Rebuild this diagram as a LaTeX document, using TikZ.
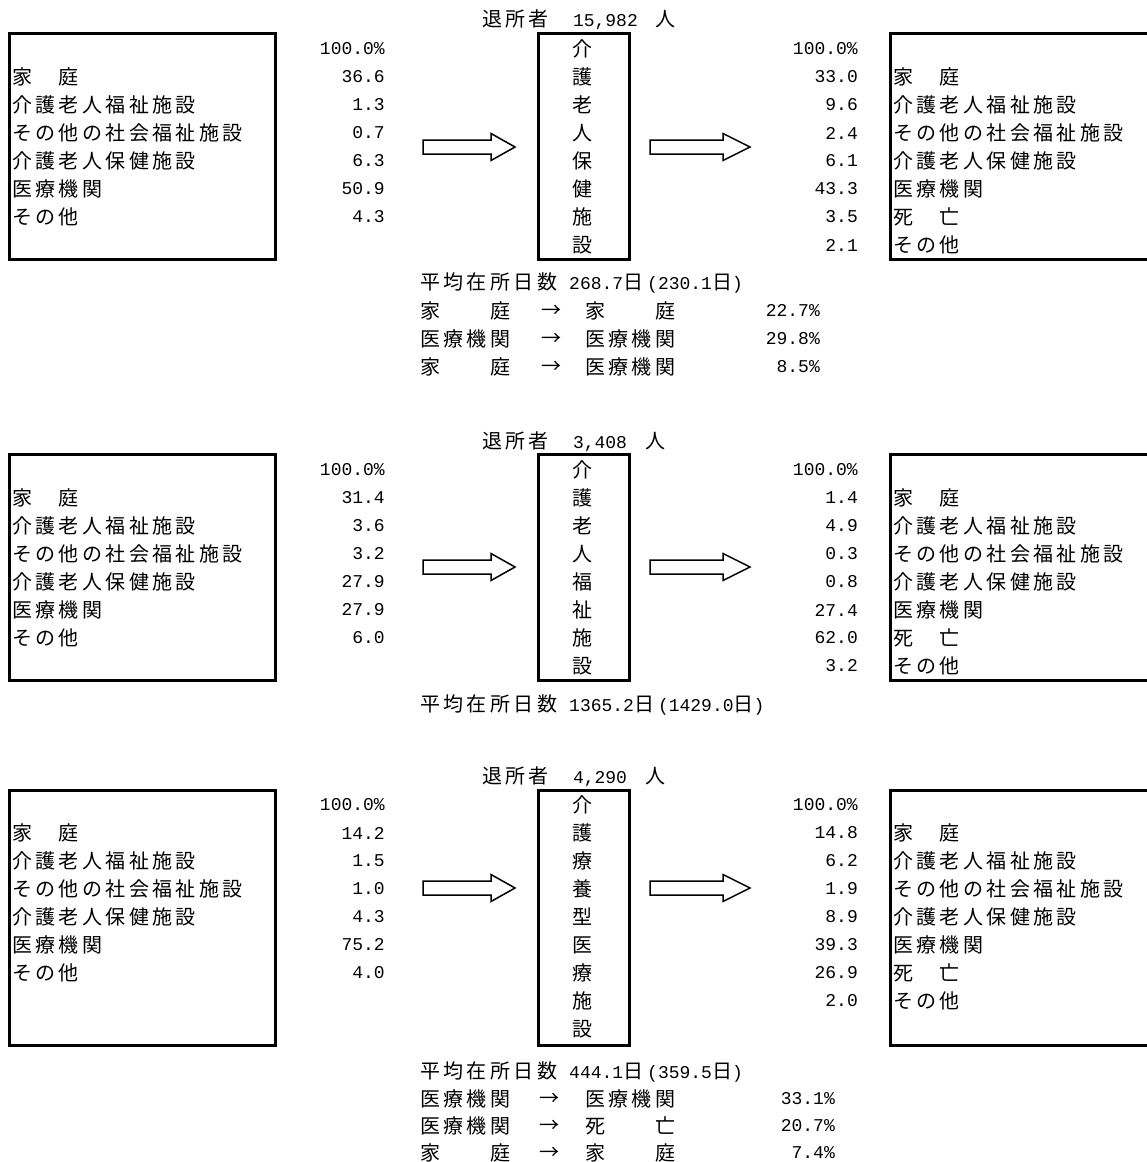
\documentclass[tikz,border=0pt]{standalone}
\usepackage{fontspec}
\newfontfamily\jpfont[LetterSpace=17]{Noto Sans CJK JP}
\newfontfamily\jpplain{Noto Sans CJK JP}
\newfontfamily\numfont{Liberation Mono}
\newcommand{\jp}{\jpfont\fontsize{20}{24}\selectfont}
\newcommand{\jpv}{\jpplain\fontsize{20}{24}\selectfont}
\newcommand{\nm}{\numfont\fontsize{18}{24}\selectfont}
\newcommand{\inlist}{家　庭,介護老人福祉施設,その他の社会福祉施設,介護老人保健施設,医療機関,その他}
\newcommand{\outlist}{家　庭,介護老人福祉施設,その他の社会福祉施設,介護老人保健施設,医療機関,死　亡,その他}
\usetikzlibrary{positioning}

\begin{document}
\begin{tikzpicture}[
  x=1pt, y=-1pt,
  box/.style={draw, line width=3pt},
  hollow/.style={draw, line width=1.5pt},
  lbl/.style={anchor=west, inner sep=0pt, font=\jp},
  val/.style={anchor=east, inner sep=0pt, font=\nm},
  vch/.style={inner sep=0pt, font=\jpv},
  mixed/.style={anchor=west, inner sep=0pt}
]
\clip (0,0) rectangle (1147,1162);

% ---------- 介護老人保健施設 ----------
\draw[box] (9,33) rectangle (275,259);
\draw[box] (538,33) rectangle (629,259);
\draw[box] (890,33) rectangle (1160,259);
\node[mixed] (a-top) at (482,20) {{\jp 退所者}\hspace{24pt}{\nm 15,982}\hspace{18pt}{\jp 人}};
\foreach \t [count=\i] in \inlist
  \node[lbl] (a-in\i) at (12,49+28*\i) {\t};
\foreach \v [count=\i from 0] in {100.0\%,36.6,1.3,0.7,6.3,50.9,4.3}
  \node[val] (a-inv\i) at (385,49+28*\i) {\v};
\foreach \c [count=\i from 0] in {介,護,老,人,保,健,施,設}
  \node[vch] (a-c\i) at (582,49+28*\i) {\c};
\foreach \v [count=\i from 0] in {100.0\%,33.0,9.6,2.4,6.1,43.3,3.5,2.1}
  \node[val] (a-outv\i) at (858,49+28*\i) {\v};
\foreach \t [count=\i] in \outlist
  \node[lbl] (a-out\i) at (893,49+28*\i) {\t};
\node[mixed] (a-days) at (420,283) {{\jp 平均在所日数}\hspace{12pt}{\nm 268.7}{\jp 日}\hspace{4pt}{\nm (230.1}{\jp 日}{\nm )}};
\foreach \fa/\fb/\pc [count=\i] in {家　　庭/家　　庭/22.7\%,医療機関/医療機関/29.8\%,家　　庭/医療機関/8.5\%}{
  \node[lbl] (a-fa\i) at (420,283+28*\i) {\fa};
  \node[vch] (a-ar\i) at (551,283+28*\i) {→};
  \node[lbl] (a-fb\i) at (585,283+28*\i) {\fb};
  \node[val] (a-pc\i) at (820,283+28*\i) {\pc};
}

% ---------- 介護老人福祉施設 ----------
\draw[box] (9,454) rectangle (275,680);
\draw[box] (538,454) rectangle (629,680);
\draw[box] (890,454) rectangle (1160,680);
\node[mixed] (b-top) at (482,442) {{\jp 退所者}\hspace{24pt}{\nm 3,408}\hspace{18pt}{\jp 人}};
\foreach \t [count=\i] in \inlist
  \node[lbl] (b-in\i) at (12,470+28*\i) {\t};
\foreach \v [count=\i from 0] in {100.0\%,31.4,3.6,3.2,27.9,27.9,6.0}
  \node[val] (b-inv\i) at (385,470+28*\i) {\v};
\foreach \c [count=\i from 0] in {介,護,老,人,福,祉,施,設}
  \node[vch] (b-c\i) at (582,470+28*\i) {\c};
\foreach \v [count=\i from 0] in {100.0\%,1.4,4.9,0.3,0.8,27.4,62.0,3.2}
  \node[val] (b-outv\i) at (858,470+28*\i) {\v};
\foreach \t [count=\i] in \outlist
  \node[lbl] (b-out\i) at (893,470+28*\i) {\t};
\node[mixed] (b-days) at (420,705) {{\jp 平均在所日数}\hspace{12pt}{\nm 1365.2}{\jp 日}\hspace{4pt}{\nm (1429.0}{\jp 日}{\nm )}};

% ---------- 介護療養型医療施設 ----------
\draw[box] (9,790) rectangle (275,1045);
\draw[box] (538,790) rectangle (629,1045);
\draw[box] (890,790) rectangle (1160,1045);
\node[mixed] (c-top) at (482,777) {{\jp 退所者}\hspace{24pt}{\nm 4,290}\hspace{18pt}{\jp 人}};
\foreach \t [count=\i] in \inlist
  \node[lbl] (c-in\i) at (12,805+28*\i) {\t};
\foreach \v [count=\i from 0] in {100.0\%,14.2,1.5,1.0,4.3,75.2,4.0}
  \node[val] (c-inv\i) at (385,805+28*\i) {\v};
\foreach \c [count=\i from 0] in {介,護,療,養,型,医,療,施,設}
  \node[vch] (c-c\i) at (582,805+28*\i) {\c};
\foreach \v [count=\i from 0] in {100.0\%,14.8,6.2,1.9,8.9,39.3,26.9,2.0}
  \node[val] (c-outv\i) at (858,805+28*\i) {\v};
\foreach \t [count=\i] in \outlist
  \node[lbl] (c-out\i) at (893,805+28*\i) {\t};
\node[mixed] (c-days) at (420,1072) {{\jp 平均在所日数}\hspace{12pt}{\nm 444.1}{\jp 日}\hspace{4pt}{\nm (359.5}{\jp 日}{\nm )}};
\foreach \fa/\fb/\pc [count=\i] in {医療機関/医療機関/33.1\%,医療機関/死　　亡/20.7\%,家　　庭/家　　庭/7.4\%}{
  \node[lbl] (c-fa\i) at (420,1072+27*\i) {\fa};
  \node[vch] (c-ar\i) at (549,1072+27*\i) {→};
  \node[lbl] (c-fb\i) at (585,1072+27*\i) {\fb};
  \node[val] (c-pc\i) at (835,1072+27*\i) {\pc};
}

% hollow arrows in and out of each facility
\foreach \ay in {147,567,888}{
  \draw[hollow] (423,\ay-7) -- (491,\ay-7) -- (491,\ay-13.5) -- (515,\ay) -- (491,\ay+13.5) -- (491,\ay+7) -- (423,\ay+7) -- cycle;
  \draw[hollow] (650,\ay-7) -- (723,\ay-7) -- (723,\ay-13.5) -- (750,\ay) -- (723,\ay+13.5) -- (723,\ay+7) -- (650,\ay+7) -- cycle;
}
\end{tikzpicture}
\end{document}
